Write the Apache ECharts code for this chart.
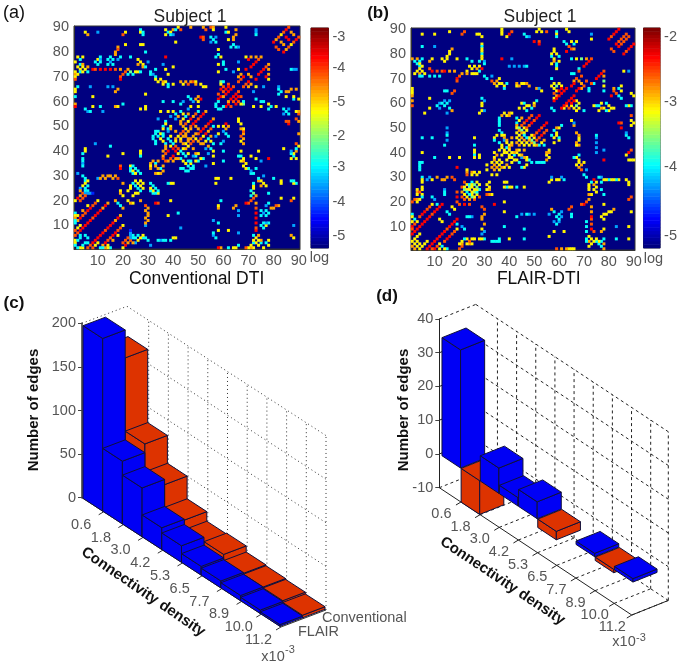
<!DOCTYPE html>
<html>
<head>
<meta charset="utf-8">
<style>html,body{margin:0;padding:0;background:#fff}#c{width:680px;height:669px}</style>
<script src="https://cdn.jsdelivr.net/npm/echarts@6/dist/echarts.min.js"></script>
</head>
<body>
<div id="c"></div>
<script>
// Matrix rows: [y, x,level, x,level, ...] for cells with x<y.
// A connectivity matrix is symmetric, so each cell also appears at (y,x).
const halfA = [
[90,42,5,47,6,52,6,55,7,56,6,61,5,86,7],
[89,27,3,37,5,40,6,41,3,43,7,53,7,56,5,65,6,73,2,85,8],
[88,5,5,10,2,21,5,27,5,28,3,38,3,39,5,61,3,62,5,73,2,84,7,87,6],
[87,6,6,20,7,28,3,37,5,39,3,40,2,65,6,73,3,83,5],
[86,51,8,52,7,55,3,57,2,64,6,82,7,85,8],
[85,52,7,56,3,62,5,64,6,81,6],
[84,41,5,55,2,57,3,80,8,83,6],
[83,21,5,27,5,28,5,64,3],
[82,18,6,63,3,65,3,66,2,81,7],
[81,18,7,58,5],
[80,17,6,29,3],
[79,17,6,58,3],
[78,2,5,4,5,11,3,15,3,19,3,23,3,37,8,57,3,59,5,69,5,71,6,73,6,75,6],
[77,3,3,10,5,11,2,14,3,16,3,18,2,26,5,70,8,74,7],
[76,1,5,9,3,11,3,15,2,27,5,30,2,60,3,66,2,73,8],
[75,3,3,4,6,10,3,14,3,16,3,26,6,28,5,36,2,58,5,60,3,72,8],
[74,2,5,4,5,6,6,28,6,29,3,40,5,71,8],
[73,3,5,5,5,8,8,9,7,11,8,13,8,15,8,17,7,19,6,22,6,33,3,37,5,61,3,66,5,69,8],
[72,1,5,3,3,4,5,6,3,21,7,23,4,25,5,26,5,27,3,31,3,58,5,64,2],
[71,1,6,2,5,20,7,22,3,24,3,31,3,32,2,38,5,67,6,70,6],
[70,1,5,19,7,33,3,66,6,68,8],
[69,1,7,19,8,33,5,35,5,67,7],
[68,34,5,36,6,37,5,43,6,45,6,47,6,48,7,49,5,59,4,60,3,66,7],
[67,36,5,38,3,40,5,44,5,46,7,49,6,51,5,59,5,62,7],
[66,2,3,7,2,14,2,16,2,38,3,52,5,53,5,60,7,62,8,64,7],
[65,1,5,18,6,59,8,61,8,63,8],
[64,1,5,17,6,60,7,62,8],
[63,29,5,58,7,61,8],
[62,1,3,8,5,46,3,50,6,59,8,60,6],
[61,51,8,49,6,47,3,58,8],
[60,36,3,40,3,44,2,48,2,50,5,58,3],
[59,1,6,20,3,43,3,57,3],
[58,1,8,8,5,11,3,17,6,18,5,29,5,47,5,50,5,57,3],
[57,5,3,27,5,29,5,46,2],
[56,6,2,7,3,12,2,35,5,38,5,40,5,43,3,50,3,53,6],
[55,41,3,44,5,46,6,49,7,52,8],
[54,39,2,42,6,45,3,48,6,51,8],
[53,34,2,41,2,44,5,47,8,50,7],
[52,37,3,43,6,46,5,49,8],
[51,37,5,43,6,45,7,48,8],
[50,36,3,39,5,44,6,47,7,49,6],
[49,36,5,38,3,39,6,45,5,47,6],
[48,33,3,34,3,38,2,41,6,44,7,46,6],
[47,33,3,35,5,36,3,43,7,45,6],
[46,32,3,34,3,36,3,39,5,42,5,44,6,45,6],
[45,32,3,35,5,38,3,41,6,43,5],
[44,33,3,36,5,39,3,41,5,43,6],
[43,9,2,33,3,37,3,40,3],
[42,15,3,37,6,39,5,41,7],
[41,5,5,37,6,40,8],
[40,5,5,27,5,36,6,38,8],
[39,4,3,20,5,27,5,37,7],
[38,14,5,36,6,27,3],
[37,4,3,36,7],
[36,4,3,32,6,34,6],
[35,4,2,31,6,33,3],
[34,4,3,19,7,23,5,24,3,31,5,33,6],
[33,19,8,23,3,25,3,31,6],
[32,23,3,24,5,26,3],
[31,2,2,24,3,25,5,27,3],
[30,12,6,14,6,15,6,17,6,4,3],
[29,5,3,10,2,11,6,13,6,16,6,18,7],
[28,5,3,6,5,25,5,27,5],
[27,5,5,20,6,24,3,26,5],
[26,4,5,6,3,23,5,25,3],
[25,3,2,5,3,23,5],
[24,3,6,5,3,6,3,19,5,22,5],
[23,4,7,5,2,6,2,7,2,8,1,19,6],
[22,3,6,5,7,20,5],
[21,2,8,4,7],
[20,1,5,3,7,10,5,17,6],
[19,9,7,14,6,18,3],
[18,8,7,13,8,6,5],
[17,7,8,12,6],
[16,6,8,11,8,4,6],
[15,5,7,10,8,1,3],
[14,4,7,9,8,1,5,2,5],
[13,3,8,8,7,1,6],
[12,2,6,7,8,1,3],
[11,1,3,6,8],
[10,5,8,3,5],
[9,4,8,2,5],
[8,3,8,1,7],
[7,2,7],
[6,1,7,3,3,5,3],
[5,3,3],
[4,1,5,2,3],
[3,1,5],
[2,1,3]
];
const halfB = [
[90,37,5,52,5,63,5,84,8],
[89,16,5,22,7,37,5,41,7,51,5,53,5,55,7,59,3,64,5,83,8],
[88,5,5,10,5,21,7,27,5,28,5,37,5,40,8,46,3,59,5,73,2,82,8,87,7],
[87,29,5,39,5,47,3,48,2,59,3,81,7,86,7],
[86,73,5,80,8,85,7],
[85,50,8,52,7,62,3,65,5,67,5,84,7],
[84,52,8,63,3,66,3,29,5,83,8],
[83,5,3,10,2,29,3,64,7],
[82,17,6,29,5,58,5,65,7,66,6,81,7],
[81,16,5,29,5,58,5,63,8],
[80,16,5,29,3,57,5,59,5],
[79,15,5,29,5,57,3,60,3],
[78,1,6,3,6,5,3,9,5,13,5,15,5,19,5,23,3,29,5,37,8,41,2,58,5,65,3,67,5,69,4,71,6,73,7],
[77,2,3,4,3,8,6,14,5,25,3,28,3,30,2,58,6,60,5,72,8],
[76,3,3,4,5,30,3,57,5,59,3,71,8],
[75,4,3,5,5,24,5,26,5,28,5,40,2,42,2,44,2,46,2,47,3,59,3,70,8],
[74,4,5,8,7,25,5,27,6,29,8,59,5,68,3],
[73,3,5,5,5,9,8,11,7,13,7,14,8,16,6,18,6,23,5,28,3,68,7],
[72,2,5,4,6,6,5,21,6,23,6,25,5,26,5,27,5,65,3,66,3],
[71,4,3,5,3,8,3,10,3,12,3,20,7,30,3,33,2,69,7],
[70,19,8,31,3,36,5,57,3,67,7],
[69,19,7,33,7,35,6,66,6,68,6],
[68,34,6,36,5,37,5,39,3,43,6,45,5,46,5,47,6,58,5,60,5,66,8],
[67,35,5,38,5,43,5,44,6,48,6,57,5,59,4,61,5,65,8],
[66,1,5,38,3,51,6,52,2,58,5,61,8,63,8],
[65,1,5,14,3,15,3,18,7,53,5,59,5,60,8,62,8],
[64,1,5,17,7,58,7,61,8],
[63,1,6,59,6,60,8],
[62,8,5,29,3,58,5,59,8],
[61,1,6,14,2,16,2,30,2,51,3,58,8],
[60,12,2,13,3,15,3,29,5,45,5,46,3,50,5],
[59,1,7,11,3,14,3,29,5,47,5,48,5,50,6],
[58,8,5,12,2,16,3,44,5,46,5,49,3,57,3],
[57,17,6,29,5,30,2,47,3],
[56,6,5,15,2,28,5,38,5,40,6,41,5],
[55,37,6,39,5,40,6,49,7,52,8],
[54,36,3,43,3,45,6,48,7,51,8],
[53,36,3,44,5,47,8,50,7],
[52,36,3,43,3,46,7,49,8],
[51,36,3,43,6,45,7,48,7],
[50,15,2,43,5,44,4,46,5,47,7],
[49,36,3,44,6,45,4,47,5],
[48,15,2,37,3,43,5,45,6,46,5],
[47,15,3,35,5,37,5,38,5,44,5,46,3],
[46,5,3,9,3,26,5,34,5,38,6,41,6,43,5,45,6],
[45,15,2,34,3,38,2,39,6,44,5],
[44,36,3,39,5,41,5,43,6],
[43,14,3,26,3,37,5,40,5,41,6],
[42,37,5,39,3,40,6],
[41,26,5,36,5,38,5,40,5],
[40,5,5,26,5,34,5,38,5,39,5],
[39,26,3,28,5,35,6,37,5],
[38,10,3,16,5,20,5,26,5,28,5,34,5],
[37,36,5,34,6],
[36,4,3,5,3,33,5,35,5],
[35,4,3,31,5,34,6],
[34,4,3,19,8,33,6],
[33,4,3,23,5,31,5],
[32,23,6,25,6,26,5,28,5],
[31,23,7,25,5,27,5],
[30,5,3,8,2,11,6,15,6,17,7],
[29,5,5,7,2,9,5,13,6,14,6,18,7],
[28,5,5,22,7,25,3,27,5],
[27,23,5,24,3,25,5,26,4],
[26,5,5,21,7,22,5,24,4,25,5],
[25,3,5,5,5,14,2,22,4,23,5,24,5],
[24,3,6,4,7,14,3,19,7,21,6,23,3],
[23,3,5,5,5,14,3,22,5],
[22,5,3,9,3,19,8,21,7],
[21,2,7,3,6,4,5,10,2],
[20,1,7,3,5,19,7],
[19,9,5,11,3,13,8],
[18,8,7,12,8,17,5],
[17,7,7,11,8],
[16,6,8,10,8,15,3],
[15,1,3,5,8,9,7],
[14,1,5,4,7,8,8],
[13,2,3,7,8,12,5],
[12,1,5,6,8,3,5],
[11,2,7,5,8],
[10,1,8,4,8],
[9,3,8,1,7],
[8,2,8],
[7,1,8,4,5],
[6,3,5],
[5,2,5],
[4,1,5,3,5],
[3,2,5],
[2,1,6]
];
const levelIndex = [0,10,18,24,31,40,45,50,55,60]; // level -> colormap row
const colorLevels = Array.from({length:64},(_,i)=>i);
const cbTicksA = {61:'-3',52:'-4',42:'-5',32:'-2',23:'-3',13:'-4',3:'-5'};
const cbTicksB = {61:'-2',42:'-3',23:'-4',3:'-5'};

const densityLabels = ['0.6','1.8','3.0','4.2','5.3','6.5','7.7','8.9','10.0','11.2'];
const flairEdges = [198,72,56,25,19,10,8,6,4,2];
const conventionalEdges = [166,82,50,24,13,14,7,6,5,3];
const differenceEdges = [35,-10,7.5,2.5,5,-2.5,0,1,-1,1];

const BLUE='#0000f5', RED='#dd3300', EDGE='#10103a', GREY='#555', FF='"Liberation Sans",Arial,sans-serif';
function jet(i){
  const t=i/63;
  const f=(c)=>Math.round(255*Math.max(0,Math.min(1,1.5-Math.abs(4*t-c))));
  return 'rgb('+f(3)+','+f(2)+','+f(1)+')';
}
const jetColors=colorLevels.map(jet);
function cells(half){
  const out=[];
  half.forEach(r=>{
    for(let i=1;i<r.length;i+=2){
      const x=r[i],l=r[i+1];
      if(!l) continue;
      out.push([x-1,r[0]-1,levelIndex[l]]);
      out.push([r[0]-1,x-1,levelIndex[l]]);
    }
  });
  return out;
}
const idx90=Array.from({length:90},(_,i)=>String(i+1));
function heatGridX(g){return {gridIndex:g,type:'category',data:idx90,boundaryGap:true,
  axisTick:{show:false},axisLine:{lineStyle:{color:'#333'}},splitLine:{show:false},
  axisLabel:{interval:i=>(i+1)%10===0,color:GREY,fontSize:14.5,fontFamily:FF,margin:4,hideOverlap:false}};}
function heatGridY(g){return {gridIndex:g,type:'category',data:idx90,boundaryGap:true,
  axisTick:{show:false},axisLine:{lineStyle:{color:'#333'}},splitLine:{show:false},
  axisLabel:{interval:i=>(i+1)%10===0,color:GREY,fontSize:14.5,fontFamily:FF,margin:5}};}
function cbX(g){return {gridIndex:g,type:'category',data:['c'],axisLabel:{show:false},axisTick:{show:false},axisLine:{show:false}};}
function cbY(g,t){return {gridIndex:g,type:'category',data:colorLevels,position:'right',boundaryGap:true,
  axisTick:{show:false},axisLine:{show:false},splitLine:{show:false},
  axisLabel:{interval:0,color:GREY,fontSize:14.5,fontFamily:FF,margin:4,formatter:(v)=>t[v]||''}};}

const cfgC={sx:45,sy:-17,dy:12.8,end:10.1,ticks:[1.1,2.1,3.1,4.1,5.1,6.1,7.1,8.1,9.1,10.1],verts:[1.1,2.1,3.1,4.1,5.1,6.1,7.1,8.1,9.1,10.1],zs:[0,50,100,150,200],
  zmin:0,zmax:200,dash:[1,3],lineC:'#333',lab:[-22.5,13]};
const cfgD={sx:36.5,sy:-14.6,dy:12.67,end:10.05,ticks:[1.13,2.13,3.13,4.13,5.13,6.13,7.13,8.13,9.13,10.05],verts:[1.13,2.13,3.13,4.13,5.13,6.13,7.13,8.13,9.13,10.05],zs:[-10,0,10,20,30,40],
  zmin:-10,zmax:40,dash:[3,3],lineC:'#222',lab:[-19.5,12]};
function proj(api,c,d,s,z){const p=api.coord([d,z]);return [p[0]+s*c.sx,p[1]+d*c.dy+s*c.sy];}
function line(a,b,style){return {type:'line',shape:{x1:a[0],y1:a[1],x2:b[0],y2:b[1]},style:style,silent:true};}
function wallItem(c,showFloor){
  return function(params,api){
    const kind=api.value(0), v=api.value(1), kids=[];
    const st={stroke:c.lineC,lineWidth:1,lineDash:c.dash,fill:null};
    if(kind===0){
      kids.push(line(proj(api,c,v,1,c.zmin),proj(api,c,v,1,c.zmax),st));
      if(showFloor) kids.push(line(proj(api,c,v,0,c.zmin),proj(api,c,v,1,c.zmin),st));
    }else{
      kids.push(line(proj(api,c,0,1,v),proj(api,c,c.end,1,v),st));
      if(v===c.zmax||showFloor) kids.push(line(proj(api,c,0,0,v),proj(api,c,0,1,v),st));
    }
    return {type:'group',children:kids};
  };
}
function frameItem(c,col){
  return function(params,api){
    const st={stroke:col,lineWidth:1,fill:null};
    const kids=[line(proj(api,c,0,0,c.zmin),proj(api,c,c.end,0,c.zmin),st),
                line(proj(api,c,c.end,0,c.zmin),proj(api,c,c.end,1,c.zmin),st)];
    c.ticks.forEach(t=>{const a=proj(api,c,t,0,c.zmin);kids.push(line(a,[a[0]-5,a[1]+3],st));});
    return {type:'group',children:kids};
  };
}
function labelItem(c){
  return function(params,api){
    const a=proj(api,c,api.value(0),0,c.zmin);
    return {type:'text',x:a[0]+c.lab[0],y:a[1]+c.lab[1],silent:true,
      style:{text:densityLabels[params.dataIndex],fill:GREY,font:'14.5px '+FF,align:'center',verticalAlign:'middle'}};
  };
}
function barItem(c){
  return function(params,api){
    const d0=api.value(0),d1=api.value(1),s0=api.value(2),s1=api.value(3),v=api.value(4);
    if(v===0) return null;
    const zt=Math.max(v,0),zb=Math.min(v,0);
    const col=api.value(5)===1?RED:BLUE;
    const st={fill:col,stroke:EDGE,lineWidth:1,lineJoin:'round'};
    const poly=pts=>({type:'polygon',shape:{points:pts},style:st,silent:true});
    const P=(d,s,z)=>proj(api,c,d,s,z);
    return {type:'group',children:[
      poly([P(d0,s0,zb),P(d1,s0,zb),P(d1,s0,zt),P(d0,s0,zt)]),
      poly([P(d1,s0,zb),P(d1,s1,zb),P(d1,s1,zt),P(d1,s0,zt)]),
      poly([P(d0,s0,zt),P(d1,s0,zt),P(d1,s1,zt),P(d0,s1,zt)])
    ]};
  };
}
function wallData(c){return c.verts.map(v=>[0,v]).concat(c.zs.map(z=>[1,z]));}
const barsC0=conventionalEdges.map((v,k)=>[k+0.05,k+1.05,0.5,1,v,1]);
const barsC1=flairEdges.map((v,k)=>[k+0.05,k+1.05,0,0.5,v,0]);
const barsD=differenceEdges.map((v,k)=>[k+0.14,k+1.11,0,0.66,v,v<0?1:0]);
const custom=(g,fn,data,name)=>({type:'custom',name:name,xAxisIndex:g,yAxisIndex:g,renderItem:fn,data:data,clip:false,animation:false,silent:true,
  encode:{x:0,y:1}});

function txt(x,y,t,font,o){return {type:'text',x:x,y:y,rotation:(o&&o.rot)||0,silent:true,
  style:{text:t,font:font,fill:(o&&o.fill)||'#111',align:(o&&o.align)||'center',verticalAlign:'middle'}};}

const option={
  animation:false,backgroundColor:'#fff',
  title:[
    {text:'Subject 1',left:185,top:3,textAlign:'center',textStyle:{fontFamily:FF,fontSize:17.5,fontWeight:'normal',color:'#222'}},
    {text:'Subject 1',left:535,top:3,textAlign:'center',textStyle:{fontFamily:FF,fontSize:17.5,fontWeight:'normal',color:'#222'}}
  ],
  visualMap:[{show:false,type:'continuous',min:0,max:63,dimension:2,seriesIndex:[0,1,2,3],inRange:{color:jetColors}}],
  grid:[
    {left:74,top:26,width:226,height:223,show:true,backgroundColor:jet(0),borderColor:'#333',borderWidth:1,containLabel:false},
    {left:411,top:28,width:224,height:222,show:true,backgroundColor:jet(0),borderColor:'#333',borderWidth:1},
    {left:311,top:28,width:17.5,height:220,show:true,borderColor:'#333',borderWidth:1},
    {left:643.5,top:28,width:17.5,height:220,show:true,borderColor:'#333',borderWidth:1},
    {left:82,top:323.3,width:199,height:174.4},
    {left:439.3,top:319,width:192.5,height:168.7}
  ],
  xAxis:[heatGridX(0),heatGridX(1),cbX(2),cbX(3),
    {gridIndex:4,type:'value',min:0,max:10.1,show:false},
    {gridIndex:5,type:'value',min:0,max:10.05,show:false}],
  yAxis:[heatGridY(0),heatGridY(1),cbY(2,cbTicksA),cbY(3,cbTicksB),
    {gridIndex:4,type:'value',min:0,max:200,interval:50,splitLine:{show:false},
      axisLine:{show:true,onZero:false,lineStyle:{color:'#666',width:2}},axisTick:{show:true,length:4,lineStyle:{color:'#444'}},
      axisLabel:{color:GREY,fontSize:14.5,fontFamily:FF,margin:6}},
    {gridIndex:5,type:'value',min:-10,max:40,interval:10,splitLine:{show:false},
      axisLine:{show:true,onZero:false,lineStyle:{color:'#222',width:1}},axisTick:{show:true,length:4,lineStyle:{color:'#444'}},
      axisLabel:{color:GREY,fontSize:14.5,fontFamily:FF,margin:6}}],
  series:[
    {type:'heatmap',name:'Conventional DTI',xAxisIndex:0,yAxisIndex:0,data:cells(halfA),progressive:0},
    {type:'heatmap',name:'FLAIR-DTI',xAxisIndex:1,yAxisIndex:1,data:cells(halfB),progressive:0},
    {type:'heatmap',xAxisIndex:2,yAxisIndex:2,data:colorLevels.map(i=>[0,i,i]),progressive:0},
    {type:'heatmap',xAxisIndex:3,yAxisIndex:3,data:colorLevels.map(i=>[0,i,i]),progressive:0},
    custom(4,wallItem(cfgC,false),wallData(cfgC),'wall'),
    custom(4,frameItem(cfgC,'#333'),[[0,0]],'frame'),
    custom(4,barItem(cfgC),barsC0,'Conventional'),
    custom(4,barItem(cfgC),barsC1,'FLAIR'),
    custom(4,labelItem(cfgC),cfgC.ticks.map(t=>[t,0]),'ticks'),
    custom(5,wallItem(cfgD,true),wallData(cfgD),'wall'),
    custom(5,frameItem(cfgD,'#222'),[[0,0]],'frame'),
    custom(5,barItem(cfgD),barsD,'Difference'),
    custom(5,labelItem(cfgD),cfgD.ticks.map(t=>[t,0]),'ticks')
  ],
  graphic:{elements:[
    txt(14,13,'(a)','18px '+FF,{align:'center'}),
    txt(378,13,'(b)','bold 17px '+FF),
    txt(14,303,'(c)','bold 17px '+FF),
    txt(387,296,'(d)','bold 17px '+FF),
    txt(196.7,279,'Conventional DTI','17.5px '+FF),
    txt(538.7,279,'FLAIR-DTI','17.5px '+FF),
    txt(319.5,258,'log','14.5px '+FF,{fill:GREY}),
    txt(653.5,259,'log','14.5px '+FF,{fill:GREY}),
    txt(33.5,410,'Number of edges','bold 15px '+FF,{rot:Math.PI/2}),
    txt(404,410,'Number of edges','bold 15px '+FF,{rot:Math.PI/2}),
    txt(143.3,592,'Connectivity density','bold 15px '+FF,{rot:-0.6}),
    txt(502.5,581,'Connectivity density','bold 15px '+FF,{rot:-0.59}),
    txt(322,618,'Conventional','14.5px '+FF,{align:'left',fill:GREY}),
    txt(298,632,'FLAIR','14.5px '+FF,{align:'left',fill:GREY}),
    txt(273,657,'x10','14.5px '+FF,{fill:GREY}),
    txt(290,650,'-3','11px '+FF,{fill:GREY}),
    txt(624,642,'x10','14.5px '+FF,{fill:GREY}),
    txt(641,638,'-3','11px '+FF,{fill:GREY})
  ]}
};
const chart=echarts.init(document.getElementById('c'),null,{renderer:'canvas',width:680,height:669});
chart.setOption(option);
</script>
</body>
</html>
